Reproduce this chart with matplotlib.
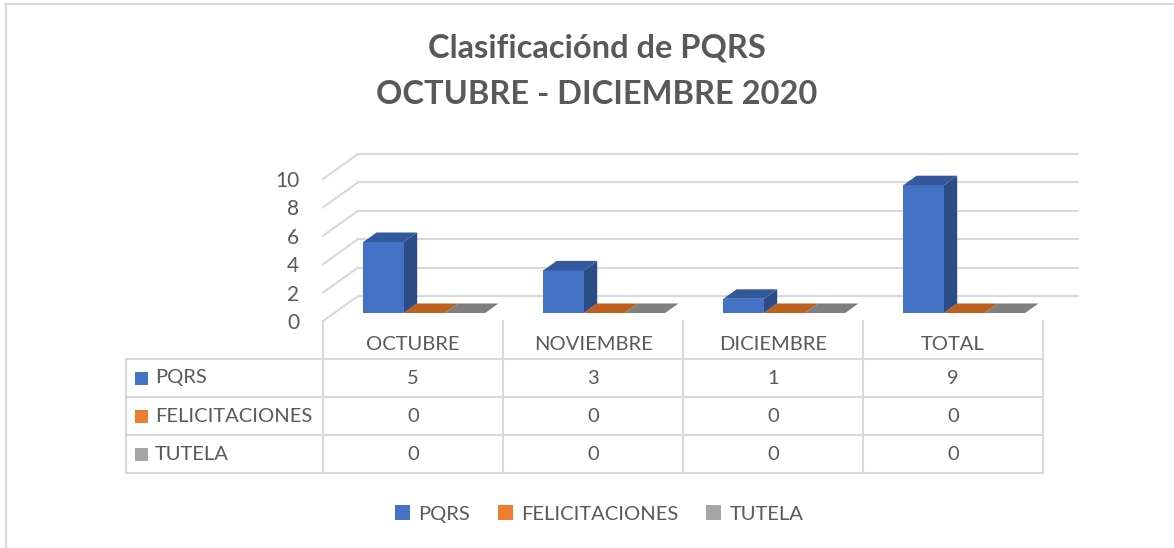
# Clasificacion de PQRS - grafico de columnas 3D con tabla de datos

import matplotlib.pyplot as plt
from matplotlib.patches import Polygon, Rectangle
from matplotlib.transforms import blended_transform_factory

# datos
categories = ['OCTUBRE', 'NOVIEMBRE', 'DICIEMBRE', 'TOTAL']
series_names = ['PQRS', 'FELICITACIONES', 'TUTELA']
pqrs = [5, 3, 1, 9]
felicitaciones = [0, 0, 0, 0]
tutela = [0, 0, 0, 0]
y_ticks = [0, 2, 4, 6, 8, 10]
title_lines = ['Clasificaciónd de PQRS', 'OCTUBRE - DICIEMBRE 2020']

series = [pqrs, felicitaciones, tutela]

# estilos
legend_colors = ['#4472C4', '#ED7D31', '#A5A5A5']
side_colors = ['#2C4C86', '#A9551C', '#6E6E6E']
top_colors = ['#33589C', '#BF5F1E', '#7F7F7F']
text_col = '#595959'
grid_col = '#D9D9D9'
font = 'Lato'
fs = 14.5

W, H = 1174, 548
fig = plt.figure(figsize=(W / 100, H / 100), dpi=100)
plt.rcParams['font.family'] = [font, 'DejaVu Sans']

# capa de fondo en pixeles (borde, titulo, tabla)
ov = fig.add_axes([0, 0, 1, 1])
ov.set_xlim(0, W)
ov.set_ylim(H, 0)
ov.axis('off')

# eje principal: frente del grafico
left, right, y0, y10 = 323, 1043, 321, 179
ax = fig.add_axes([left / W, 1 - y0 / H, (right - left) / W, (y0 - y10) / H])
ax.set_xlim(0, len(categories))
ax.set_ylim(0, 10)
ax.patch.set_alpha(0)
for s in ax.spines.values():
    s.set_visible(False)

# profundidad (en unidades de datos)
DX = 35 / 180
DY = 25 / 14.2
f1, f2 = 0.32, 0.70
w = 0.2256

# paredes y lineas de cuadricula
for t in y_ticks:
    ax.plot([0, DX], [t, t + DY], color=grid_col, lw=1.5, clip_on=False, zorder=1)
    ax.plot([DX, len(categories) + DX], [t + DY, t + DY], color=grid_col, lw=1.5,
            clip_on=False, zorder=1)

# barras 3D
a, b = f1 * DX, f1 * DY
a2, b2 = f2 * DX, f2 * DY
for c in range(len(categories)):
    for i, vals in enumerate(series):
        v = vals[c]
        x0 = c + (1 - 3 * w) / 2 + i * w
        if v > 0:
            side = [(x0 + w + a, b), (x0 + w + a2, b2), (x0 + w + a2, b2 + v), (x0 + w + a, b + v)]
            ax.add_patch(Polygon(side, closed=True, fc=side_colors[i], ec='none',
                                 clip_on=False, zorder=3))
            front = [(x0 + a, b), (x0 + w + a, b), (x0 + w + a, b + v), (x0 + a, b + v)]
            ax.add_patch(Polygon(front, closed=True, fc=legend_colors[i], ec='none',
                                 clip_on=False, zorder=3))
        top = [(x0 + a, b + v), (x0 + w + a, b + v), (x0 + w + a2, b2 + v), (x0 + a2, b2 + v)]
        ax.add_patch(Polygon(top, closed=True, fc=top_colors[i], ec='none',
                             clip_on=False, zorder=3))

ax.set_yticks(y_ticks)
ax.set_yticklabels([str(t) for t in y_ticks], fontsize=15, color=text_col)
ax.tick_params(axis='y', length=0, pad=17)
ax.set_xticks([])

# borde del grafico
ov.plot([5, W], [4, 4], color=grid_col, lw=1.5)
ov.plot([6, 6], [4, H], color=grid_col, lw=1.5)

# titulo
for yt, line in zip([48, 95], title_lines):
    ov.text(597, yt, line, ha='center', va='center', fontsize=23.5, fontweight='bold',
            color=text_col)

# tabla de datos
tr = blended_transform_factory(ax.transData, ov.transData)
row_lines = [359, 397, 435, 473]
header_y = 345
row_y = [378, 416, 454]
tab_left = 126

for yl in row_lines:
    ov.plot([tab_left, right], [yl, yl], color=grid_col, lw=1.5)
ov.plot([tab_left, tab_left], [row_lines[0], row_lines[-1]], color=grid_col, lw=1.5)
for c in range(len(categories) + 1):
    ov.plot([c, c], [y0, row_lines[-1]], color=grid_col, lw=1.5, transform=tr)

for c, name in enumerate(categories):
    ov.text(c + 0.5, header_y, name, ha='center', va='center', fontsize=fs,
            color=text_col, transform=tr)
    for i, vals in enumerate(series):
        ov.text(c + 0.5, row_y[i], str(vals[c]), ha='center', va='center', fontsize=fs,
                color=text_col, transform=tr)

for i, name in enumerate(series_names):
    ov.add_patch(Rectangle((135, row_y[i] - 6.5), 13, 13, fc=legend_colors[i], ec='none'))
    ov.text(155, row_y[i], name, ha='left', va='center', fontsize=fs, color=text_col)

# leyenda
handles = [Rectangle((0, 0), 1, 1, fc=col, ec='none') for col in legend_colors]
fig.legend(handles, series_names, loc='center', bbox_to_anchor=(599 / W, 1 - 514 / H),
           ncol=3, frameon=False, fontsize=fs, labelcolor=text_col,
           handlelength=0.75, handleheight=0.75, handletextpad=0.4, columnspacing=1.4)

fig.savefig('out.png', dpi=100)
